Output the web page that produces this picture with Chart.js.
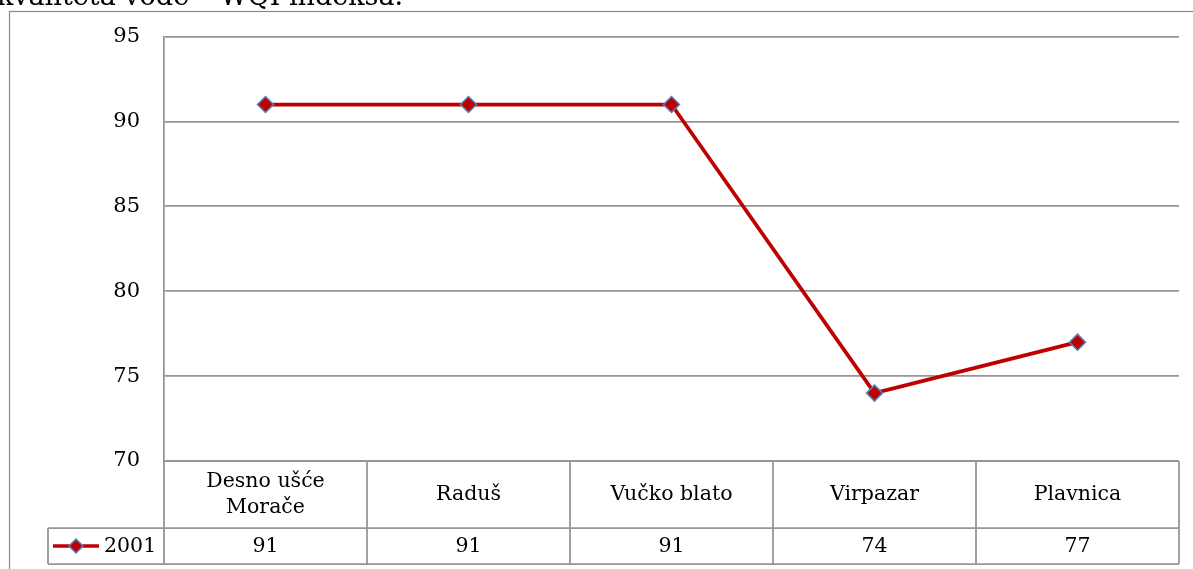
<!DOCTYPE html>
<html>
<head>
<meta charset="utf-8">
<script src="https://cdn.jsdelivr.net/npm/chart.js@4.4.1/dist/chart.umd.min.js"></script>
<style>
  html, body { margin: 0; padding: 0; background: #fff; overflow: hidden; }
  #wrap { position: relative; width: 1193px; height: 569px; }
</style>
</head>
<body>
<div id="wrap"><canvas id="c"></canvas></div>
<script>
// Measuring stations (multi-line names as arrays)
const stations = [['Desno ušće', 'Morače'], 'Raduš', 'Vučko blato', 'Virpazar', 'Plavnica'];
// WQI values per station
const seriesName = '2001';
const wqi2001 = [91, 91, 91, 74, 77];
// Value axis ticks
const yTicks = [70, 75, 80, 85, 90, 95];
// Caption line of the surrounding document
const headingText = 'kvaliteta vode – WQI indeksa.';

const FONT = '"DejaVu Serif", "Liberation Serif", serif';
const LINE_RED = '#C00000';
const MARKER_EDGE = '#4F81BD';
const GRID = '#959595';

// Draws a diamond marker like the series points
function diamond(ctx, x, y, r) {
  ctx.beginPath();
  ctx.moveTo(x - r, y);
  ctx.lineTo(x, y - r);
  ctx.lineTo(x + r, y);
  ctx.lineTo(x, y + r);
  ctx.closePath();
  ctx.fillStyle = LINE_RED;
  ctx.fill();
  ctx.lineWidth = 1.5;
  ctx.strokeStyle = MARKER_EDGE;
  ctx.stroke();
}

// Outer frame, caption and data table under the plot
const tablePlugin = {
  id: 'dataTable',
  beforeDraw(chart) {
    const ctx = chart.ctx;
    ctx.save();
    ctx.fillStyle = '#000';
    ctx.font = '27px ' + FONT;
    ctx.textAlign = 'left';
    ctx.textBaseline = 'alphabetic';
    ctx.fillText(headingText, -3, 5);
    ctx.strokeStyle = '#8a8a8a';
    ctx.lineWidth = 1.2;
    ctx.strokeRect(9.5, 11.5, 1400, 800);
    ctx.restore();
  },
  afterDraw(chart) {
    const { ctx, chartArea: a, scales: { x } } = chart;
    const row1 = 67, row2 = 36;
    const top = a.bottom, mid = top + row1, bot = mid + row2;
    const keyLeft = 48;
    const bounds = [a.left];
    for (let i = 0; i < stations.length - 1; i++) {
      bounds.push((x.getPixelForValue(i) + x.getPixelForValue(i + 1)) / 2);
    }
    bounds.push(a.right);

    ctx.save();
    ctx.strokeStyle = GRID;
    ctx.lineWidth = 1.75;
    ctx.beginPath();
    ctx.moveTo(a.left, top); ctx.lineTo(a.right, top);
    ctx.moveTo(keyLeft, mid); ctx.lineTo(a.right, mid);
    ctx.moveTo(keyLeft, bot); ctx.lineTo(a.right, bot);
    ctx.moveTo(keyLeft, mid); ctx.lineTo(keyLeft, bot);
    bounds.forEach(b => { ctx.moveTo(b, top); ctx.lineTo(b, bot); });
    ctx.stroke();

    ctx.fillStyle = '#000';
    ctx.font = '20.5px ' + FONT;
    ctx.textAlign = 'center';
    ctx.textBaseline = 'middle';
    const lh = 26;
    stations.forEach((s, i) => {
      const cx = x.getPixelForValue(i);
      const lines = Array.isArray(s) ? s : [s];
      lines.forEach((ln, j) => {
        ctx.fillText(ln, cx, top + row1 / 2 + (j - (lines.length - 1) / 2) * lh);
      });
      ctx.fillText(String(wqi2001[i]), cx, mid + row2 / 2 + 1);
    });

    // series key: line with diamond, then series name
    const ky = mid + row2 / 2;
    ctx.strokeStyle = LINE_RED;
    ctx.lineWidth = 3.5;
    ctx.beginPath();
    ctx.moveTo(53, ky); ctx.lineTo(99, ky);
    ctx.stroke();
    diamond(ctx, 76, ky, 7);
    ctx.fillStyle = '#000';
    ctx.textAlign = 'left';
    ctx.fillText(seriesName, 104, ky + 1);
    ctx.restore();
  }
};

Chart.defaults.font.family = FONT;
Chart.defaults.color = '#000';

new Chart(document.getElementById('c'), {
  type: 'line',
  data: {
    labels: stations,
    datasets: [{
      label: seriesName,
      data: wqi2001,
      borderColor: LINE_RED,
      borderWidth: 3.75,
      pointStyle: 'rectRot',
      pointRadius: 8,
      pointHoverRadius: 8,
      pointBackgroundColor: LINE_RED,
      pointBorderColor: MARKER_EDGE,
      pointBorderWidth: 1.5,
      tension: 0,
      fill: false
    }]
  },
  options: {
    responsive: true,
    maintainAspectRatio: false,
    animation: false,
    events: [],
    layout: { padding: { top: 35, bottom: 108, left: 0, right: 14 } },
    plugins: { legend: { display: false }, tooltip: { enabled: false } },
    scales: {
      x: { display: false, offset: true },
      y: {
        min: 70,
        max: 95,
        afterBuildTicks(scale) { scale.ticks = yTicks.map(v => ({ value: v })); },
        afterFit(scale) { scale.width = 164; },
        ticks: { font: { size: 21 }, padding: 24, color: '#000' },
        grid: { color: GRID, lineWidth: 1.75, drawTicks: false },
        border: { display: true, color: GRID, width: 1.75 }
      }
    }
  },
  plugins: [tablePlugin]
});
</script>
</body>
</html>
